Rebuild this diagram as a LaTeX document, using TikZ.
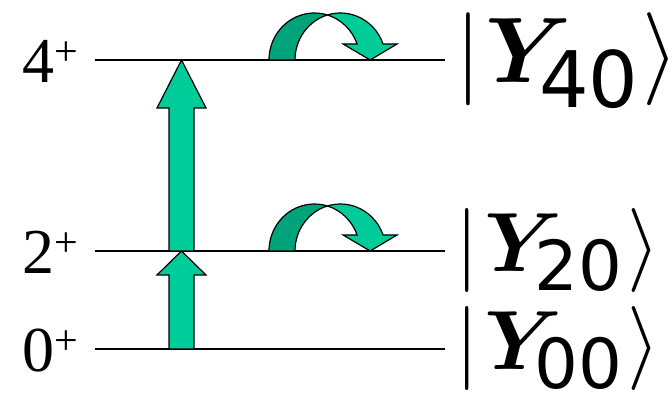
\RequirePackage{fix-cm}
\documentclass[tikz,border=0pt]{standalone}
\usepackage{fontspec}
\setmainfont{Liberation Serif}
\newfontfamily\subsans{DejaVu Sans}
\usetikzlibrary{calc}
\definecolor{arrowlight}{HTML}{00CC99}
\definecolor{arrowdark}{HTML}{00A37A}
\tikzset{
  levelline/.style={line width=1.5pt},
  blockarrow/.style={fill=arrowlight,draw=black,line width=1.2pt,line join=miter},
  darkpart/.style={fill=arrowdark,draw=black,line width=1.2pt},
  lightpart/.style={fill=arrowlight,draw=black,line width=1.2pt,line join=miter},
  spinlabel/.style={anchor=base west,inner sep=0pt,font=\fontsize{64}{64}\selectfont},
  statelabel/.style={anchor=base west,inner sep=0pt},
  curvedarrow/.pic={
    \draw[darkpart] (0,0) arc[start angle=180,end angle=73.36,x radius=45.4,y radius=47]
      arc[start angle=106.64,end angle=180,x radius=45.4,y radius=47] -- cycle;
    \draw[lightpart] (58.4,45.03) arc[start angle=106.64,end angle=19.9,x radius=45.4,y radius=47]
      -- (128.1,16) -- (101.1,0) -- (74.1,16) -- (88.1,16)
      arc[start angle=19.9,end angle=73.36,x radius=45.4,y radius=47] -- cycle;
  }
}
\newcommand{\plussup}{\raisebox{17pt}{\fontsize{42}{42}\selectfont +}}
% #1 size, #2 subscript size, #3 gap bar->Y, #4 gap Y->digits, #5 gap digits->bracket, #6 lowering, #7 digits
\newcommand{\ketY}[7]{\fontsize{#1}{#1}\selectfont\rlap{$|$}\hspace{#3}\rlap{\boldmath$Y$}\hspace{#4}%
  \rlap{\raisebox{-#6}{\fontsize{#2}{#2}\selectfont\subsans #7}}\hspace{#5}\rlap{$\rangle$}}
\begin{document}
\begin{tikzpicture}[x=1pt,y=1pt]
\useasboundingbox (0,0) rectangle (672,393);
% level lines
\coordinate (l4a) at (95,333); \coordinate (l4b) at (445,333);
\coordinate (l2a) at (95,142); \coordinate (l2b) at (445,142);
\coordinate (l0a) at (95,44);  \coordinate (l0b) at (445,44);
\draw[levelline] (l4a) -- (l4b);
\draw[levelline] (l2a) -- (l2b);
\draw[levelline] (l0a) -- (l0b);
% spin labels
\node[spinlabel] (s4) at (22,310) {4\plussup};
\node[spinlabel] (s2) at (22,119) {2\plussup};
\node[spinlabel] (s0) at (22,21) {0\plussup};
% state labels
\node[statelabel] (k4) at (455.6,310) {\ketY{93}{78}{29.4pt}{54pt}{103pt}{25pt}{40}};
\node[statelabel] (k2) at (455.3,121) {\ketY{84}{69}{28.7pt}{50pt}{93pt}{19pt}{20}};
\node[statelabel] (k0) at (455.3,23) {\ketY{84}{69}{28.7pt}{50pt}{93pt}{19pt}{00}};
% vertical block arrows
\coordinate (b0) at (181.5,44);
\coordinate (b2) at (181.5,142);
\coordinate (b4) at (181.5,333);
\draw[blockarrow] ($(b2)+(-12.5,0)$) -- ($(b4)+(-12.5,-48)$) -- ($(b4)+(-24.5,-48)$) -- (b4)
  -- ($(b4)+(24.5,-48)$) -- ($(b4)+(12.5,-48)$) -- ($(b2)+(12.5,0)$) -- cycle;
\draw[blockarrow] ($(b0)+(-12.5,0)$) -- ($(b2)+(-12.5,-24)$) -- ($(b2)+(-24.5,-24)$) -- (b2)
  -- ($(b2)+(24.5,-24)$) -- ($(b2)+(12.5,-24)$) -- ($(b0)+(12.5,0)$) -- cycle;
% curved arrows
\coordinate (c4) at (269,333);
\coordinate (c2) at (269,142);
\pic at (c4) {curvedarrow};
\pic at (c2) {curvedarrow};
\end{tikzpicture}
\end{document}
